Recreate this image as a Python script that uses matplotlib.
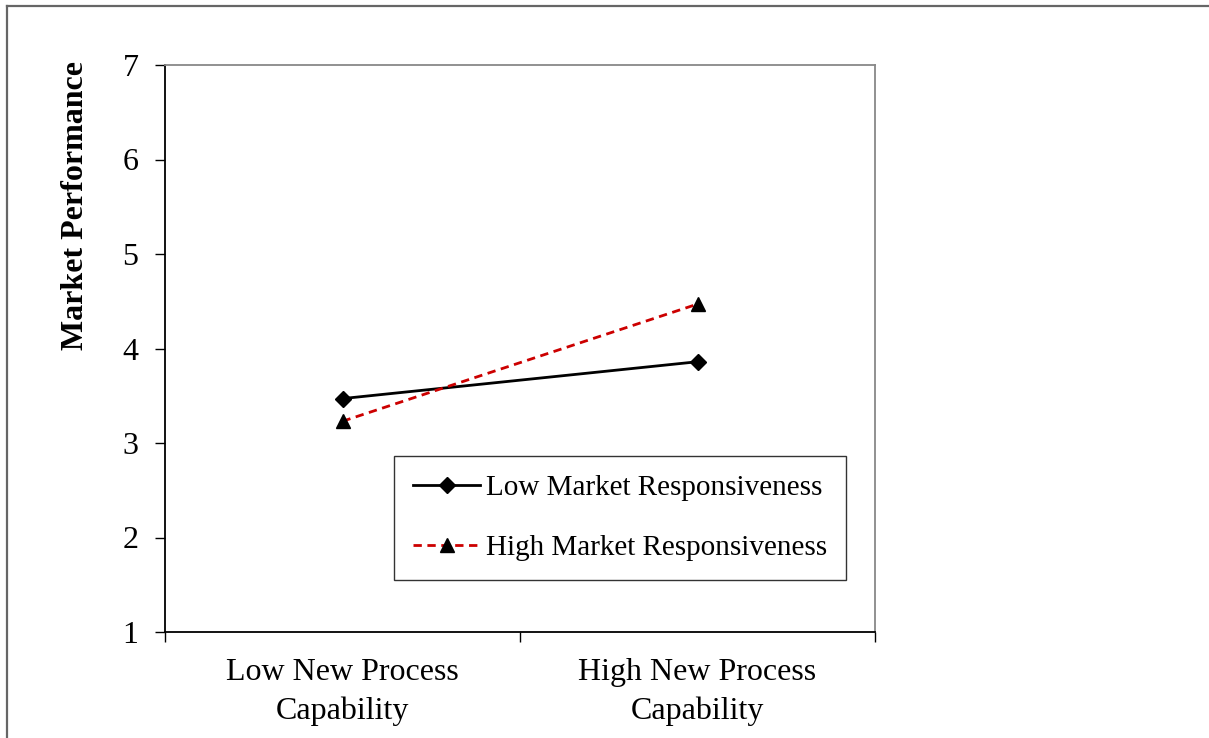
import matplotlib
matplotlib.use('Agg')
import matplotlib.pyplot as plt
from matplotlib.lines import Line2D

plt.rcParams['font.family'] = ['Liberation Serif', 'DejaVu Serif']

categories = ['Low New Process\nCapability', 'High New Process\nCapability']
low_resp = [3.47, 3.86]
high_resp = [3.23, 4.47]
yticks = [1, 2, 3, 4, 5, 6, 7]

fig = plt.figure(figsize=(12.09, 7.38), dpi=100)
ax = fig.add_axes([165/1209, 1 - 632/738, 710/1209, 567/738])

# outer chart frame (only top and left are visible in the crop)
fig.add_artist(Line2D([7/1209, 1.0], [1 - 6/738, 1 - 6/738], color='#666666', lw=1.6))
fig.add_artist(Line2D([7/1209, 7/1209], [0.0, 1 - 6/738], color='#666666', lw=1.6))

xpos = [0.5, 1.5]
ax.plot(xpos, low_resp, color='black', lw=2, marker='D', ms=8,
        label='Low Market Responsiveness')
ax.plot(xpos, high_resp, color='#CC0000', lw=2, ls=(0, (3, 2)), marker='^', ms=10,
        mfc='black', mec='black', label='High Market Responsiveness')

ax.set_xlim(0, 2)
ax.set_ylim(1, 7)
ax.set_yticks(yticks)
ax.tick_params(axis='y', direction='out', length=7, width=1, pad=12, labelsize=23)

ax.set_xticks([0, 1, 2])
ax.set_xticklabels([])
ax.tick_params(axis='x', which='major', direction='out', length=7, width=1)
ax.set_xticks(xpos, minor=True)
ax.set_xticklabels(categories, minor=True, fontsize=23, linespacing=1.4)
ax.tick_params(axis='x', which='minor', length=0, pad=19)

ax.spines['left'].set_color('black')
ax.spines['bottom'].set_color('black')
ax.spines['top'].set_color('#888888')
ax.spines['right'].set_color('#888888')
for s in ax.spines.values():
    s.set_linewidth(1.3)

ax.set_ylabel('Market Performance', fontsize=23, fontweight='bold')
ax.yaxis.set_label_coords(-0.106, 0.753)

leg = ax.legend(loc='upper left', bbox_to_anchor=(394/1209, 1 - 456/738),
                bbox_transform=fig.transFigure, fontsize=21, frameon=True,
                fancybox=False, edgecolor='black', handlelength=2.3,
                handletextpad=0.2, labelspacing=1.15, borderpad=0.65, borderaxespad=0)
leg.get_frame().set_linewidth(1)

fig.savefig('out.png', dpi=100)
